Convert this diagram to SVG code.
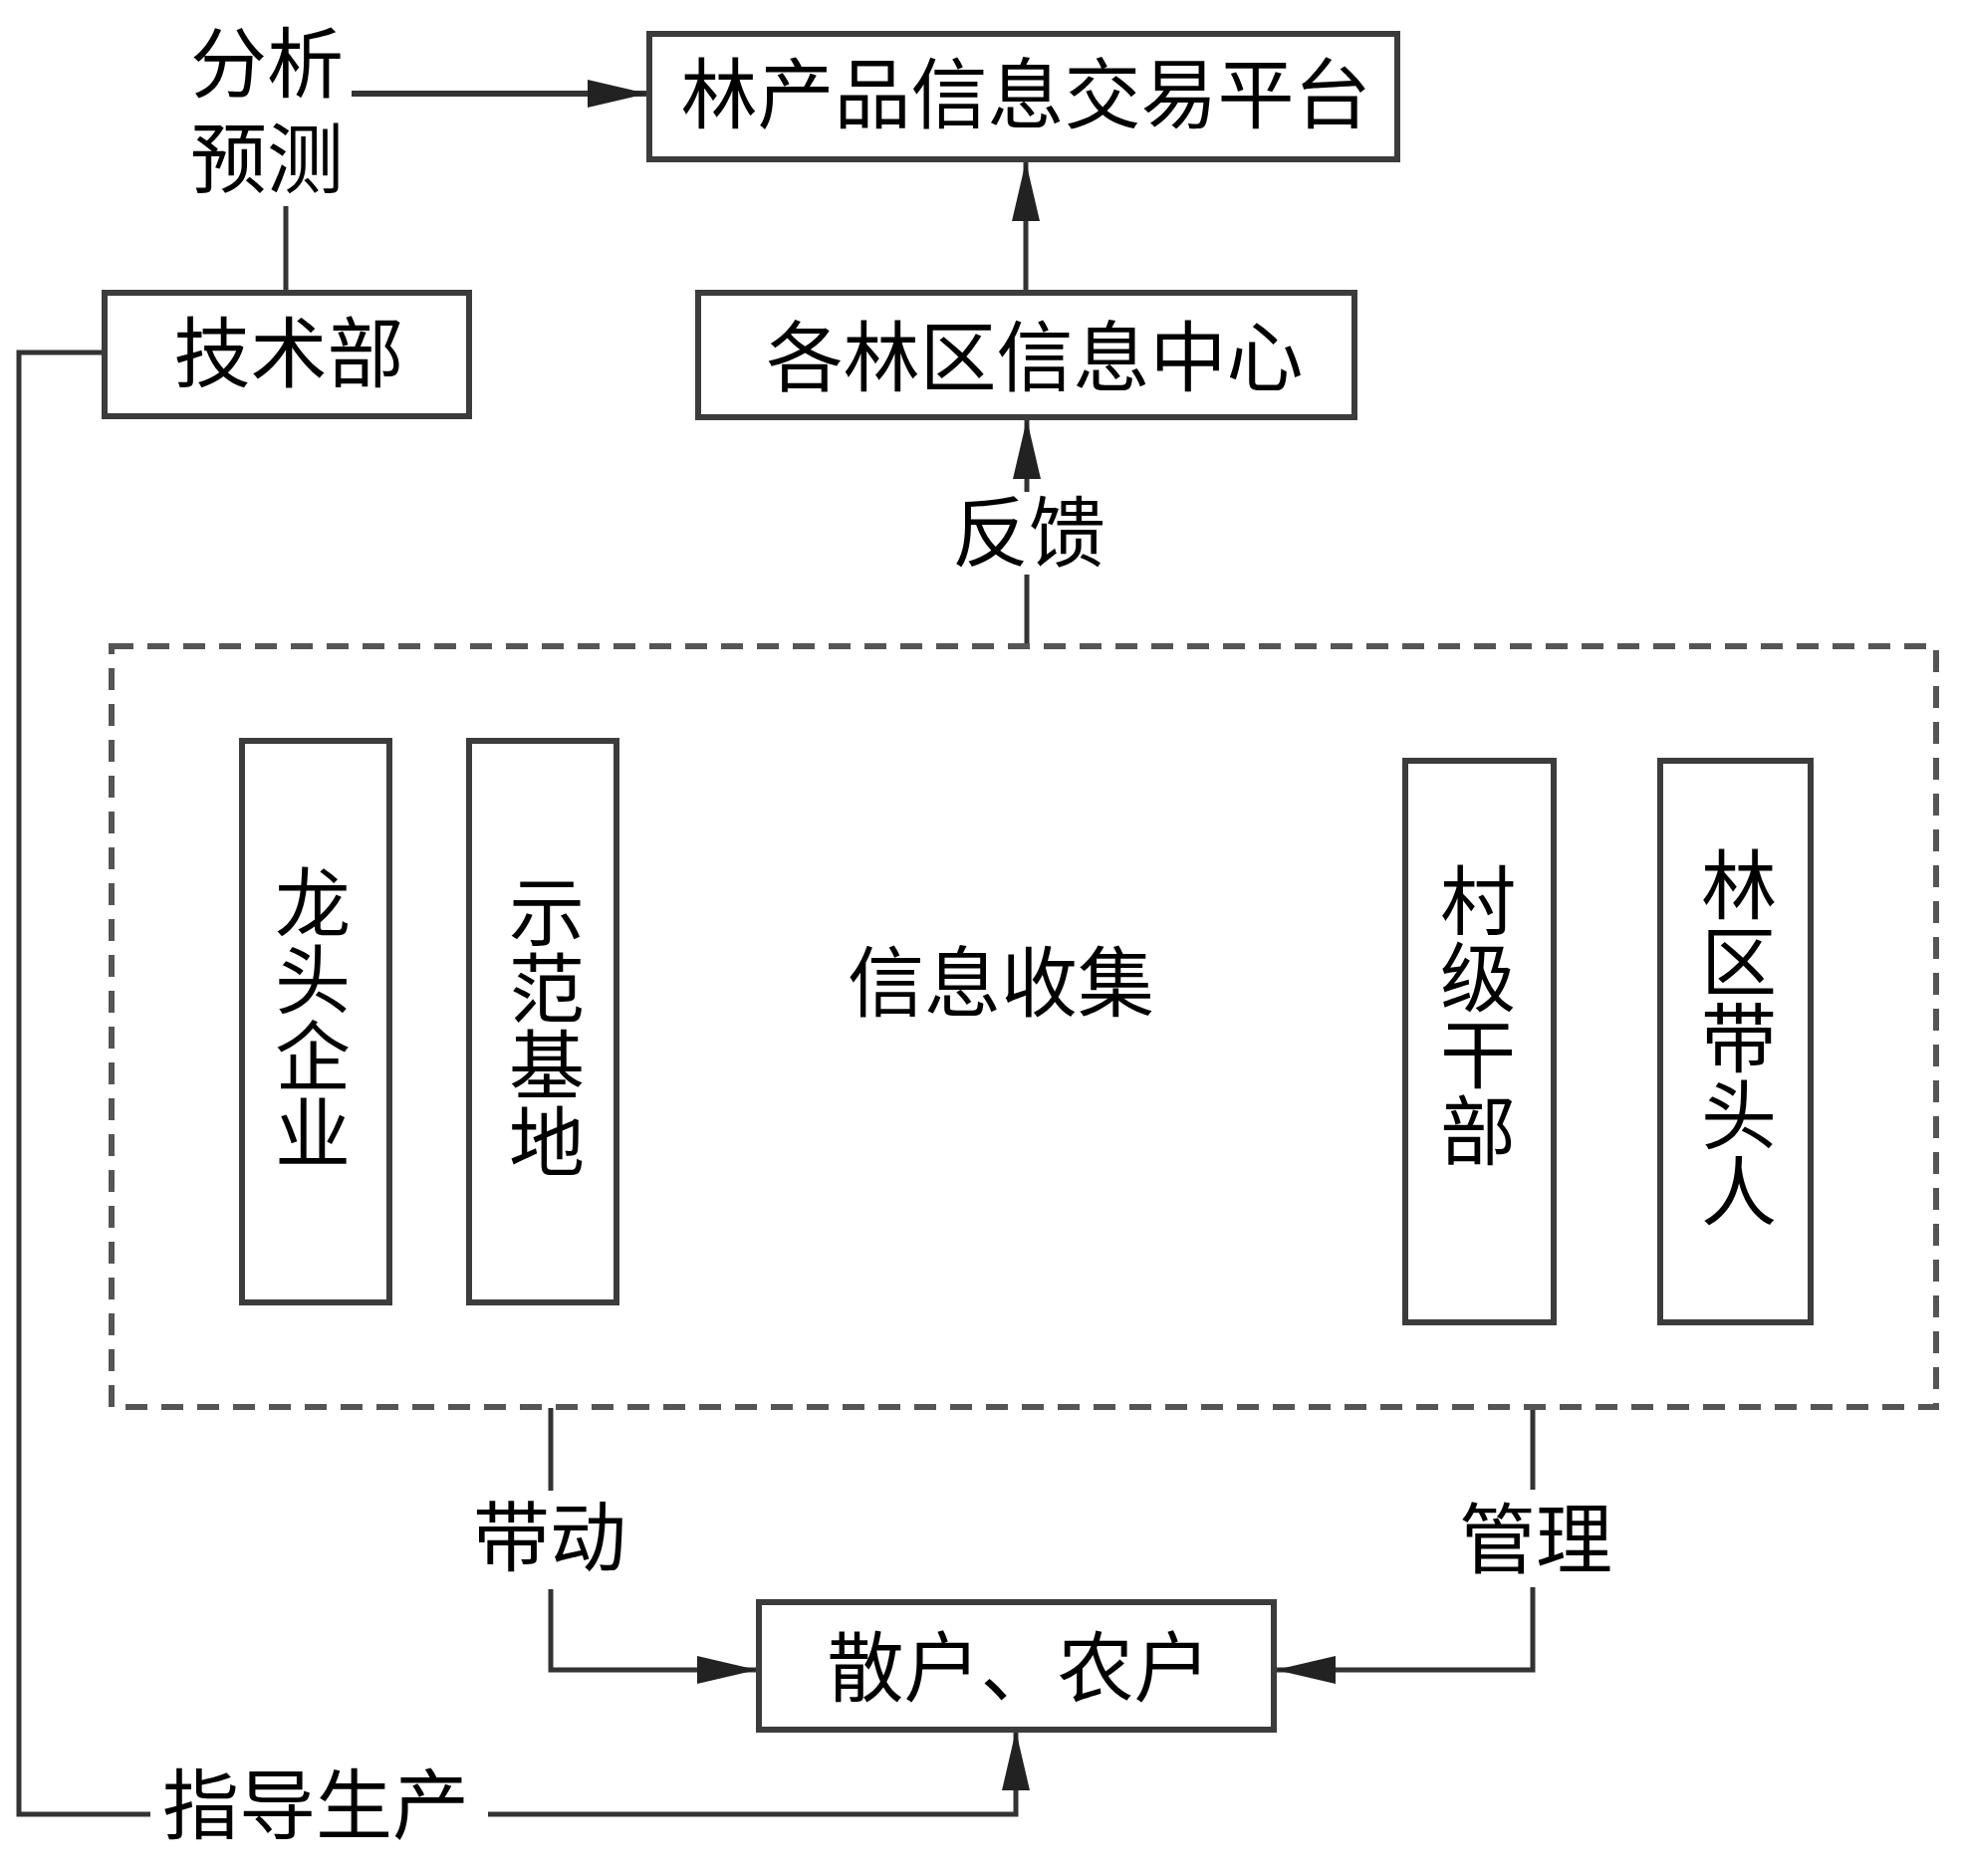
<svg xmlns="http://www.w3.org/2000/svg" width="1969" height="1884" viewBox="0 0 1969 1884">
<style>
.box{fill:#fff;stroke:#3c3c3c;stroke-width:6}
.dash{fill:none;stroke:#555;stroke-width:6;stroke-dasharray:22 14}
.ln{fill:none;stroke:#333;stroke-width:5}
.t{font-family:"Noto Sans CJK SC","Noto Sans CJK JP",sans-serif;font-size:77px;fill:#000;text-anchor:middle}
.v{font-family:"Noto Sans CJK SC","Noto Sans CJK JP",sans-serif;font-size:76px;fill:#000;writing-mode:vertical-rl;text-anchor:start;letter-spacing:1px}
</style>
<defs>
<marker id="ah" viewBox="0 0 60 30" refX="60" refY="15" markerWidth="60" markerHeight="30" markerUnits="userSpaceOnUse" orient="auto">
<path d="M0,1 L60,15 L0,29 Z" fill="#222"/>
</marker>
</defs>
<rect width="1969" height="1884" fill="#fff"/>

<g id="connectors">
<path class="ln" d="M353,94 H650" marker-end="url(#ah)" style="stroke-width:6"/>
<path class="ln" d="M287,207 V294"/>
<path class="ln" d="M1030,294 V162" marker-end="url(#ah)"/>
<path class="ln" d="M1031,647 V577"/>
<path class="ln" d="M1031,494 V421" marker-end="url(#ah)"/>
<path class="ln" d="M553,1414 V1497"/>
<path class="ln" d="M553,1596 V1677 H760" marker-end="url(#ah)"/>
<path class="ln" d="M1539,1414 V1496"/>
<path class="ln" d="M1539,1594 V1677 H1281" marker-end="url(#ah)"/>
<path class="ln" d="M105,354 H19 V1822 H151"/>
<path class="ln" d="M490,1822 H1020 V1738" marker-end="url(#ah)"/>
</g>

<g id="label-fenxi">
<text class="t"><tspan x="268" y="92">分析</tspan><tspan x="268" y="188">预测</tspan></text>
</g>
<g id="label-fankui"><text class="t" x="1033" y="563">反馈</text></g>
<g id="label-daidong"><text class="t" x="552" y="1572">带动</text></g>
<g id="label-guanli"><text class="t" x="1542" y="1574">管理</text></g>
<g id="label-zhidao"><text class="t" x="317" y="1841">指导生产</text></g>

<g id="node-platform">
<rect class="box" x="652" y="34" width="751" height="126"/>
<text class="t" x="1030" y="123">林产品信息交易平台</text>
</g>
<g id="node-jishubu">
<rect class="box" x="105" y="294" width="366" height="124"/>
<text class="t" x="290" y="383">技术部</text>
</g>
<g id="node-xinxizhongxin">
<rect class="box" x="701" y="294" width="659" height="125"/>
<text class="t" x="1039" y="387">各林区信息中心</text>
</g>

<g id="node-xinxishouji">
<rect class="dash" x="112" y="649" width="1832" height="764"/>
<text class="t" x="1005" y="1015">信息收集</text>
</g>

<g id="node-longtou">
<rect class="box" x="243" y="744" width="148" height="564"/>
<text class="v" x="314" y="868">龙头企业</text>
</g>
<g id="node-shifan">
<rect class="box" x="471" y="744" width="148" height="564"/>
<text class="v" x="549" y="877">示范基地</text>
</g>
<g id="node-cunji">
<rect class="box" x="1411" y="764" width="149" height="564"/>
<text class="v" x="1484" y="866">村级干部</text>
</g>
<g id="node-daitouren">
<rect class="box" x="1667" y="764" width="151" height="564"/>
<text class="v" x="1746" y="850">林区带头人</text>
</g>

<g id="node-sanhu">
<rect class="box" x="762" y="1609" width="517" height="128"/>
<text class="t" x="1023" y="1703">散户、农户</text>
</g>
</svg>
